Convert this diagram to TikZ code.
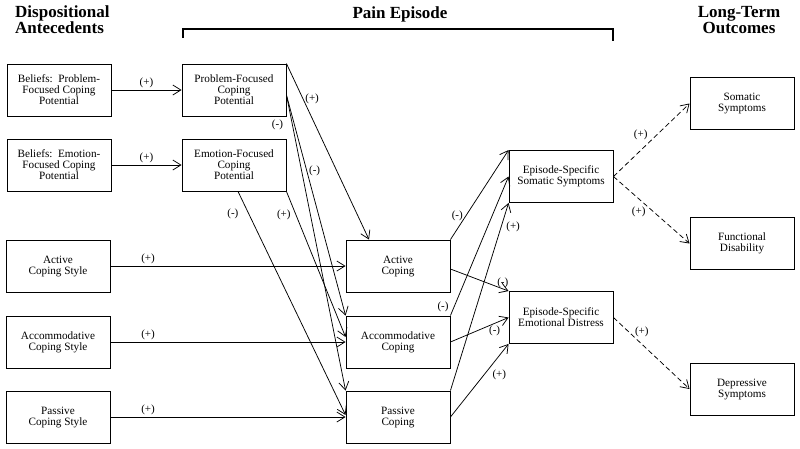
\documentclass[tikz,border=0pt]{standalone}
\usepackage{fontspec}
\setmainfont{Liberation Serif}
\usetikzlibrary{arrows.meta, positioning}
\tikzset{
>={Straight Barb[length=8pt,width=10pt]}, % open arrow heads as in the model figure
box/.style={draw=black, line width=0.9pt, minimum width=104pt, minimum height=52pt, inner sep=2pt, align=center, font=\fontsize{11.2}{11}\selectfont}, % every variable of the model
link/.style={->, line width=0.75pt}, % solid paths
outcome/.style={->, line width=0.75pt, dash pattern=on 5pt off 3pt}, % dashed paths to the long-term outcomes
sign/.style={font=\fontsize{11}{12}\selectfont, inner sep=1pt}, % sign of a path
heading/.style={font=\fontsize{17}{16}\selectfont\bfseries, inner sep=0pt}
}

\begin{document}
\begin{tikzpicture}[x=1pt, y=-1pt]
\useasboundingbox (0,0) rectangle (800,448);

% headings
\node[heading, anchor=north west, align=left] (hdisp) at (15,5) {Dispositional\\Antecedents};
\node[heading, anchor=base] (hpain) at (400,18) {Pain Episode};
\node[heading, anchor=north, align=center] (hlong) at (739,6) {Long-Term\\Outcomes};
\coordinate (brleft) at (183,38);
\coordinate (brright) at (613,41);
\draw[line width=1.2pt] (brleft) -- ++(0,-9) -| (brright);

% dispositional antecedents
\node[box] (bpf) at (59,90) {Beliefs:\ \ Problem-\\Focused Coping\\Potential};
\node[box] (bef) at (59,165) {Beliefs:\ \ Emotion-\\Focused Coping\\Potential};
\node[box] (acs) at (58,266) {Active\\Coping Style};
\node[box] (accs) at (58,342) {Accommodative\\Coping Style};
\node[box] (pcs) at (58,417) {Passive\\Coping Style};

% pain episode
\node[box] (pfcp) at (234,90) {Problem-Focused\\Coping\\Potential};
\node[box] (efcp) at (234,165) {Emotion-Focused\\Coping\\Potential};
\node[box] (ac) at (398,266) {Active\\Coping};
\node[box] (acc) at (398,342) {Accommodative\\Coping};
\node[box] (pc) at (398,417) {Passive\\Coping};
\node[box] (ess) at (561,176.5) {Episode-Specific\\Somatic Symptoms};
\node[box] (eed) at (561,317.5) {Episode-Specific\\Emotional Distress};

% long-term outcomes
\node[box] (ss) at (742,103.5) {Somatic\\Symptoms};
\node[box] (fd) at (742,243.5) {Functional\\Disability};
\node[box] (ds) at (742,389) {Depressive\\Symptoms};

% antecedents -> episode
\draw[link] (bpf) -- node[sign, above=1pt] {(+)} (pfcp);
\draw[link] (bef) -- node[sign, above=1pt] {(+)} (efcp);
\draw[link] (acs) -- node[sign, pos=.16, above=1pt] {(+)} (ac);
\draw[link] (accs) -- node[sign, pos=.16, above=1pt] {(+)} (acc);
\draw[link] (pcs) -- node[sign, pos=.16, above=1pt] {(+)} (pc);

% coping potential -> coping
\draw[link] (pfcp.north east) -- node[sign, pos=.2, right=1pt] {(+)} ([xshift=-29pt]ac.north);
\draw[link] ([yshift=-5pt]pfcp.east) -- node[sign, pos=.343, right=1pt] {(-)} (acc.north west);
\draw[link] ([yshift=-5pt]pfcp.east) -- node[sign, pos=.1, left=8pt] {(-)} (pc.north west);
\draw[link] (efcp.south east) -- node[sign, pos=.16, left=4pt] {(+)} ([yshift=5pt]acc.west);
\draw[link] ([xshift=4pt]efcp.south) -- node[sign, pos=.1, left=9pt] {(-)} ([yshift=2pt]pc.west);

% coping -> episode-specific outcomes
\draw[link] (ac.north east) -- node[sign, pos=.27, left=2pt] {(-)} (ess.north west);
\draw[link] ([yshift=-3pt]ac.east) -- node[sign, pos=.9, above=0pt] {(-)} (eed.north west);
\draw[link] (acc.north east) -- node[sign, pos=.06, left=4pt] {(-)} (ess.west);
\draw[link] (acc.east) -- node[sign, pos=.76, below=1pt] {(-)} (eed.west);
\draw[link] (pc.north east) -- node[sign, pos=.87, right=4pt] {(+)} (ess.south west);
\draw[link] (pc.east) -- node[sign, pos=.58, right=7pt] {(+)} (eed.south west);

% episode -> long-term outcomes
\draw[outcome] (ess.east) -- node[sign, pos=.57, left=8pt] {(+)} (ss.west);
\draw[outcome] (ess.east) -- node[sign, pos=.53, left=7pt] {(+)} (fd.west);
\draw[outcome] (eed.east) -- node[sign, pos=.2, right=5pt] {(+)} (ds.west);
\end{tikzpicture}
\end{document}
